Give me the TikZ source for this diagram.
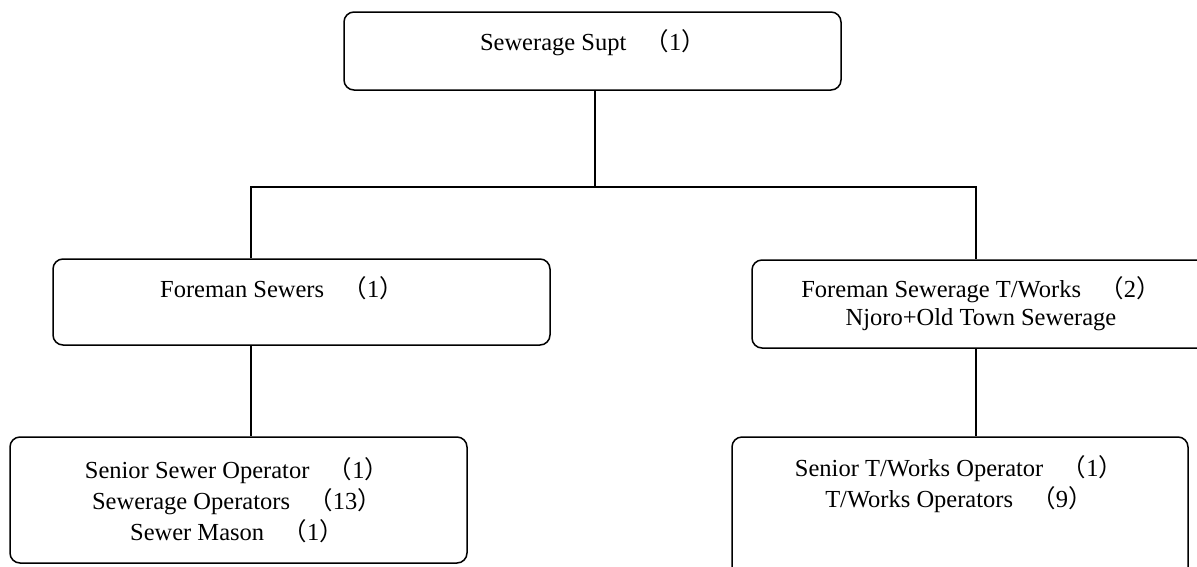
\documentclass[tikz,border=0pt]{standalone}
\usepackage{fontspec}
\setmainfont{Liberation Serif}
\newfontfamily\cjk{Noto Sans CJK SC}
\usepackage{tikz}
\newcommand{\staff}[1]{\hspace{0.75em}{\cjk （}#1{\cjk ）}}

\begin{document}
\begin{tikzpicture}[x=1pt,y=-1pt,
    box/.style={draw, rounded corners=10pt, line width=1.5pt, inner sep=0pt},
    txt/.style={align=center, inner sep=0pt, font=\fontsize{24.5}{31}\selectfont},
    link/.style={line width=1.2pt}
    ]
    \useasboundingbox (0,0) rectangle (1197,566);
    \clip (0,0) rectangle (1197,566);
    \node[box, minimum width=497pt, minimum height=78pt] (supt) at (592.5,51) {};
    \node[box, minimum width=497pt, minimum height=86pt] (fsew) at (301.5,302) {};
    \node[box, minimum width=497pt, minimum height=88pt] (ftw) at (1000.5,304) {};
    \node[box, minimum width=457pt, minimum height=126pt] (sso) at (238.5,500) {};
    \node[box, minimum width=456pt, minimum height=144pt] (sto) at (960,509) {};
    \node[txt] (supt-t) at (593,43) {Sewerage Supt\staff{1}};
    \node[txt] (fsew-t) at (282,288) {Foreman Sewers\staff{1}};
    \node[txt, font=\fontsize{24.5}{28}\selectfont] (ftw-t) at (981,304)
      {Foreman Sewerage T/Works\staff{2}\\Njoro+Old Town Sewerage};
    \node[txt] (sso-t) at (237,500.5)
      {Senior Sewer Operator\staff{1}\\Sewerage Operators\staff{13}\\Sewer Mason\staff{1}};
    \node[txt] (sto-t) at (959,484.5)
      {Senior T/Works Operator\staff{1}\\T/Works Operators\staff{9}};
    \coordinate (busL) at (251,187);
    \coordinate (busR) at (976,187);
    \draw[link] ([xshift=2.5pt]supt.south) -- ([xshift=2.5pt]supt.south |- busL);
    \draw[link] (busL |- fsew.north) -- (busL) -- (busR) -- (busR |- ftw.north);
    \draw[link] (busL |- fsew.south) -- (busL |- sso.north);
    \draw[link] (busR |- ftw.south) -- (busR |- sto.north);
\end{tikzpicture}
\end{document}
